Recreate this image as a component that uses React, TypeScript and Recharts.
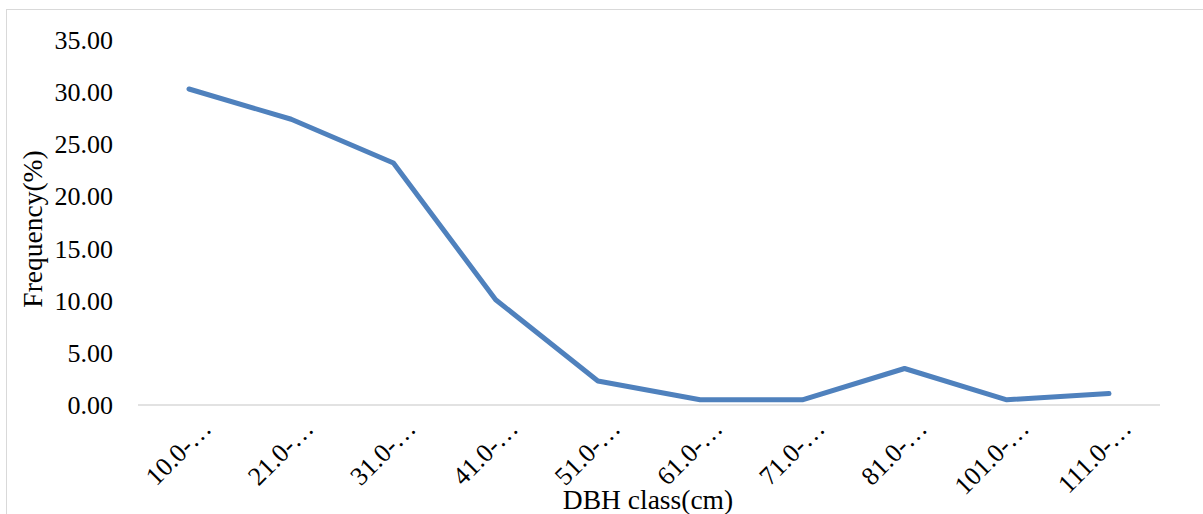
import React from 'react';
import { LineChart, Line, XAxis, YAxis } from 'recharts';

const categories = ['10.0-…', '21.0-…', '31.0-…', '41.0-…', '51.0-…', '61.0-…', '71.0-…', '81.0-…', '101.0-…', '111.0-…'];
const frequency = [30.3, 27.4, 23.2, 10.1, 2.3, 0.5, 0.5, 3.5, 0.5, 1.1];
const yTicks = [0, 5, 10, 15, 20, 25, 30, 35];

const data = categories.map((c, i) => ({ name: c, value: frequency[i] }));

const FONT = '"Liberation Serif", "Times New Roman", serif';

const XTick = (props: any) => {
  const { x, y, payload } = props;
  const ax = x + 24;
  const ay = y + 17;
  return (
    <text
      x={ax}
      y={ay}
      textAnchor="end"
      transform={`rotate(-45 ${ax} ${ay})`}
      fontFamily={FONT}
      fontSize={26}
      fill="#000"
    >
      {payload.value}
    </text>
  );
};

const YTick = (props: any) => {
  const { y, payload } = props;
  return (
    <text x={113} y={y} dy={9} textAnchor="end" fontFamily={FONT} fontSize={26} fill="#000">
      {Number(payload.value).toFixed(2)}
    </text>
  );
};

export default function App() {
  return (
    <div style={{ position: 'absolute', left: 0, top: 0, width: 1203, height: 514, overflow: 'hidden', background: '#fff' }}>
      <div style={{ position: 'absolute', left: 6, top: 9, width: 1205, height: 515, border: '1px solid #d9d9d9', boxSizing: 'border-box' }} />
      <div style={{ position: 'absolute', left: 0, top: 0 }}>
        <LineChart width={1203} height={514} data={data} margin={{ top: 40, right: 43, left: 0, bottom: 0 }}>
          <XAxis
            dataKey="name"
            height={109}
            padding={{ left: 51, right: 51 }}
            axisLine={{ stroke: '#d9d9d9', strokeWidth: 1.5 }}
            tickLine={false}
            tick={<XTick />}
            interval={0}
          />
          <YAxis
            width={138}
            domain={[0, 35]}
            ticks={yTicks}
            axisLine={false}
            tickLine={false}
            tick={<YTick />}
            interval={0}
          />
          <Line
            type="linear"
            dataKey="value"
            stroke="#4F81BD"
            strokeWidth={5}
            strokeLinecap="round"
            strokeLinejoin="round"
            dot={false}
            activeDot={false}
            isAnimationActive={false}
          />
        </LineChart>
      </div>
      <div
        style={{
          position: 'absolute',
          left: 33,
          top: 229,
          transform: 'translate(-50%, -50%) rotate(-90deg)',
          fontFamily: FONT,
          fontSize: 27.5,
          whiteSpace: 'nowrap',
          color: '#000',
        }}
      >
        Frequency(%)
      </div>
      <div
        style={{
          position: 'absolute',
          left: 648,
          top: 486,
          transform: 'translateX(-50%)',
          fontFamily: FONT,
          fontSize: 27.5,
          lineHeight: '28px',
          whiteSpace: 'nowrap',
          color: '#000',
        }}
      >
        DBH class(cm)
      </div>
    </div>
  );
}
